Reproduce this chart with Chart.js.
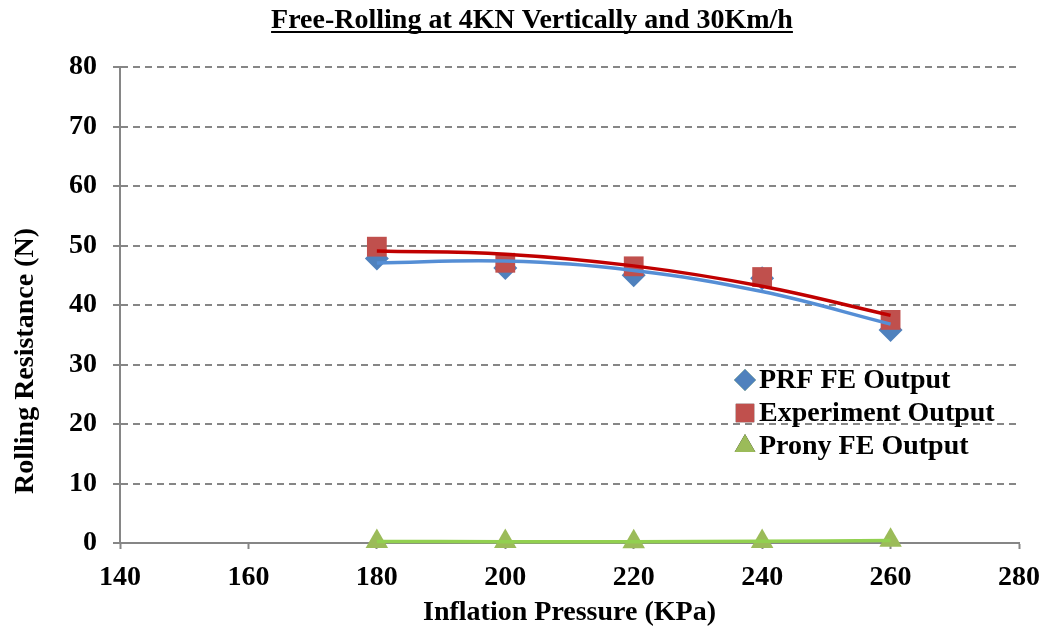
<!DOCTYPE html>
<html>
<head>
<meta charset="utf-8">
<script src="https://cdn.jsdelivr.net/npm/chart.js@4.4.1/dist/chart.umd.min.js"></script>
<style>
  html, body { margin: 0; padding: 0; background: #fff; }
  #wrap { width: 1044px; height: 630px; }
</style>
</head>
<body>
<div id="wrap"><canvas id="rrChart"></canvas></div>
<script>
const pressures = [180, 200, 220, 240, 260];
const prfFE = [47.8, 46.2, 45.0, 44.5, 35.8];
const experiment = [49.8, 47.1, 46.5, 44.7, 37.5];
const pronyFE = [0.25, 0.25, 0.2, 0.25, 0.45];
const xTicks = [140, 160, 180, 200, 220, 240, 260, 280];
const yTicks = [0, 10, 20, 30, 40, 50, 60, 70, 80];

const serif = "'Liberation Serif', 'Times New Roman', serif";

// 2nd order polynomial trendline (least squares), like Excel
function polyFit(xs, ys) {
  const n = xs.length;
  const m = xs.reduce((a, b) => a + b, 0) / n;
  const t = xs.map(x => (x - m) / 20);
  let s1 = 0, s2 = 0, s3 = 0, s4 = 0, sy = 0, sty = 0, st2y = 0;
  for (let i = 0; i < n; i++) {
    s1 += t[i]; s2 += t[i] ** 2; s3 += t[i] ** 3; s4 += t[i] ** 4;
    sy += ys[i]; sty += t[i] * ys[i]; st2y += t[i] ** 2 * ys[i];
  }
  const A = [[n, s1, s2, sy], [s1, s2, s3, sty], [s2, s3, s4, st2y]];
  for (let i = 0; i < 3; i++) {
    for (let k = i + 1; k < 3; k++) {
      const f = A[k][i] / A[i][i];
      for (let j = i; j < 4; j++) A[k][j] -= f * A[i][j];
    }
  }
  const c = [0, 0, 0];
  for (let i = 2; i >= 0; i--) {
    let s = A[i][3];
    for (let j = i + 1; j < 3; j++) s -= A[i][j] * c[j];
    c[i] = s / A[i][i];
  }
  return t.map(v => c[0] + c[1] * v + c[2] * v * v);
}

const pts = ys => pressures.map((x, i) => ({ x: x, y: ys[i] }));

const series = [
  { label: 'PRF FE Output', data: prfFE, style: 'rectRot', radius: 12, legR: 11, color: '#4F81BD', trend: '#558ED5' },
  { label: 'Experiment Output', data: experiment, style: 'rect', radius: 14, legR: 13, color: '#C0504D', trend: '#C00000' },
  { label: 'Prony FE Output', data: pronyFE, style: 'triangle', radius: 13, legR: 12, color: '#9BBB59', trend: '#92D050' }
];

const datasets = [];
series.forEach((s, i) => {
  datasets.push({
    label: s.label,
    data: pts(s.data),
    showLine: false,
    clip: false,
    pointStyle: s.style,
    pointRadius: s.radius,
    pointHoverRadius: s.radius,
    pointBackgroundColor: s.color,
    pointBorderColor: s.color,
    pointBorderWidth: 0,
    order: 3 - i
  });
});
series.forEach(s => {
  datasets.push({
    label: s.label + ' trend',
    data: pts(polyFit(pressures, s.data)),
    clip: false,
    borderColor: s.trend,
    borderWidth: 3.5,
    pointRadius: 0,
    tension: 0.4,
    order: 0
  });
});

const textPlugin = {
  id: 'chartTexts',
  afterDraw(chart) {
    const ctx = chart.ctx;
    ctx.save();
    ctx.fillStyle = '#000';
    // underlined title
    const text = 'Free-Rolling at 4KN Vertically and 30Km/h';
    ctx.font = 'bold 28px ' + serif;
    ctx.textAlign = 'center';
    ctx.textBaseline = 'alphabetic';
    ctx.fillText(text, 532, 28);
    const w = ctx.measureText(text).width;
    ctx.fillRect(532 - w / 2, 31, w, 2);
    // y axis title, placed lower than centre as in the original
    ctx.translate(26, 361);
    ctx.rotate(-Math.PI / 2);
    ctx.textBaseline = 'middle';
    ctx.fillText('Rolling Resistance (N)', 0, 0);
    ctx.restore();

    // legend inside the plot
    ctx.save();
    series.forEach((s, i) => {
      const y = 380 + i * 33;
      Chart.helpers.drawPoint(ctx, { pointStyle: s.style, radius: s.legR, rotation: 0, borderWidth: 0 }, 745, y);
      ctx.fillStyle = s.color;
      ctx.fill();
      ctx.fillStyle = '#000';
      ctx.font = 'bold 28px ' + serif;
      ctx.textAlign = 'left';
      ctx.textBaseline = 'middle';
      ctx.fillText(s.label, 759, y + 1);
    });
    ctx.restore();
  }
};

const crossTicks = {
  id: 'crossTicks',
  afterDatasetsDraw(chart) {
    const ctx = chart.ctx, a = chart.chartArea, ys = chart.scales.y;
    ctx.save();
    ctx.strokeStyle = '#868686';
    ctx.lineWidth = 2;
    ys.ticks.forEach(t => {
      const py = Math.round(ys.getPixelForValue(t.value));
      ctx.beginPath();
      ctx.moveTo(a.left, py);
      ctx.lineTo(a.left + 7, py);
      ctx.stroke();
    });
    ctx.restore();
  }
};

new Chart(document.getElementById('rrChart'), {
  type: 'line',
  data: { datasets: datasets },
  plugins: [textPlugin, crossTicks],
  options: {
    responsive: true,
    maintainAspectRatio: false,
    animation: false,
    layout: { padding: { top: 67, right: 25, bottom: 0, left: 0 } },
    plugins: {
      legend: { display: false },
      title: { display: false },
      tooltip: { enabled: false }
    },
    scales: {
      x: {
        type: 'linear',
        min: 140,
        max: 280,
        afterBuildTicks: s => { s.ticks = xTicks.map(v => ({ value: v })); },
        afterFit: s => { s.height = 87; s.paddingLeft = 0; s.paddingRight = 0; },
        grid: { drawOnChartArea: false, drawTicks: true, tickLength: 6, tickColor: '#868686', tickWidth: 2 },
        border: { color: '#868686', width: 2 },
        ticks: { color: '#000', padding: 12, font: { family: serif, size: 28, weight: 'bold' } },
        title: { display: true, text: 'Inflation Pressure (KPa)', color: '#000', padding: { top: 0, bottom: 0 },
                 font: { family: serif, size: 28, weight: 'bold' } }
      },
      y: {
        min: 0,
        max: 80,
        afterBuildTicks: s => { s.ticks = yTicks.map(v => ({ value: v })); },
        afterFit: s => { s.width = 120; },
        grid: { color: '#868686', lineWidth: 2, drawTicks: true, tickLength: 7, tickColor: '#868686',
                tickWidth: 2, tickBorderDash: [] },
        border: { color: '#868686', width: 2, dash: [7, 5] },
        ticks: { color: '#000', padding: 16, font: { family: serif, size: 28, weight: 'bold' } },
        title: { display: false }
      }
    }
  }
});
</script>
</body>
</html>
